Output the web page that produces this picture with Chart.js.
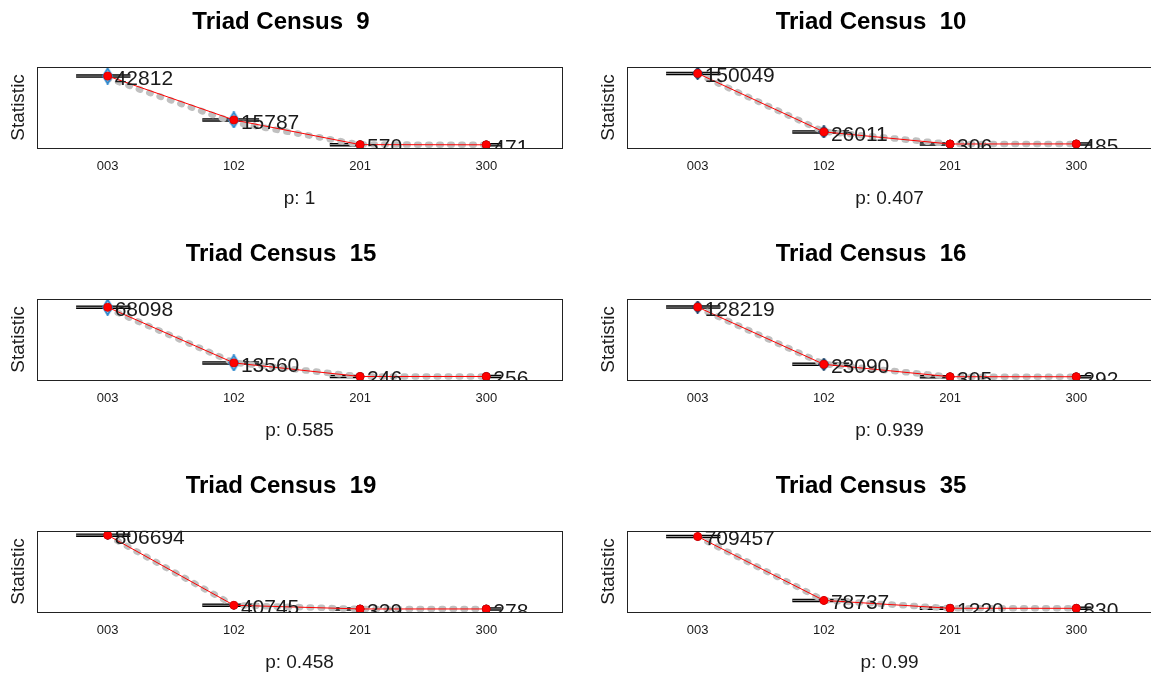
<!DOCTYPE html>
<html>
<head>
<meta charset="utf-8">
<title>Triad Census goodness of fit</title>
<script src="https://cdn.jsdelivr.net/npm/chart.js@4.4.1/dist/chart.umd.min.js"></script>
<style>
  html, body { margin: 0; padding: 0; background: #fff; }
  body { width: 1151px; height: 674px; overflow: hidden; position: relative; }
  canvas { position: absolute; }
</style>
</head>
<body>
<canvas id="tc9"  width="575" height="232" style="left:0;top:0"></canvas>
<canvas id="tc10" width="575" height="232" style="left:590px;top:0"></canvas>
<canvas id="tc15" width="575" height="232" style="left:0;top:232px"></canvas>
<canvas id="tc16" width="575" height="232" style="left:590px;top:232px"></canvas>
<canvas id="tc19" width="575" height="232" style="left:0;top:464px"></canvas>
<canvas id="tc35" width="575" height="232" style="left:590px;top:464px"></canvas>
<script>
// triad types on the x axis
const categories = ['003', '102', '201', '300'];

// observed statistics per model
const obs9  = [42812, 15787, 570, 471];
const obs10 = [150049, 26011, 306, 485];
const obs15 = [68098, 13560, 246, 256];
const obs16 = [128219, 23090, 305, 292];
const obs19 = [806694, 40745, 329, 278];
const obs35 = [709457, 78737, 1220, 830];

// mean of the simulated statistics
const sim9  = [41500, 14300, 640, 480];
const sim10 = [149000, 26600, 430, 480];
const sim15 = [67000, 13800, 330, 270];
const sim16 = [127500, 23600, 390, 300];
const sim19 = [805000, 41600, 360, 290];
const sim35 = [708000, 79800, 1300, 850];

// y axis limits
const lim9  = [-1500, 48500];
const lim10 = [-8200, 164100];
const lim15 = [-3200, 76400];
const lim16 = [-5700, 143400];
const lim19 = [-32900, 854400];
const lim35 = [-35500, 766100];

const pValues = ['1', '0.407', '0.585', '0.939', '0.458', '0.99'];
const modelIds = [9, 10, 15, 16, 19, 35];

const FONT = "'Liberation Sans', Arial, sans-serif";
const TEXT = '#1a1a1a';

// horizontal extent of the simulation spread marks, in category units
const SPREAD = [[-0.25, 0.18], [-0.25, 0.2], [-0.24, 0.02], [-0.02, 0.12]];

/**
 * Tall blue diamond used for the simulated-value markers
 * @param {boolean} filled - solid or outlined
 * @returns {HTMLCanvasElement} point image
 */
function makeDiamond(filled, w, h) {
  const c = document.createElement('canvas');
  c.width = w; c.height = h;
  const g = c.getContext('2d');
  g.beginPath();
  g.moveTo(w / 2, 1);
  g.lineTo(w - 1, h / 2);
  g.lineTo(w / 2, h - 1);
  g.lineTo(1, h / 2);
  g.closePath();
  if (filled) {
    g.fillStyle = '#2b7fc4';
    g.fill();
    g.strokeStyle = '#163f66';
  } else {
    g.strokeStyle = '#2a86cc';
  }
  g.lineWidth = 2;
  g.stroke();
  return c;
}

const diamondStyles = [
  makeDiamond(false, 11, 17),
  makeDiamond(true, 11, 13),
  makeDiamond(false, 11, 17),
  makeDiamond(true, 11, 13),
  makeDiamond(true, 9, 9),
  makeDiamond(true, 9, 9)
];

// frame around the plotting region
const boxFrame = {
  id: 'boxFrame',
  afterDatasetsDraw(chart) {
    const { ctx, chartArea: a } = chart;
    ctx.save();
    ctx.strokeStyle = '#222';
    ctx.lineWidth = 1;
    ctx.strokeRect(Math.round(a.left) + 0.5, Math.round(a.top) + 0.5,
      Math.round(a.right - a.left), Math.round(a.bottom - a.top));
    ctx.restore();
  }
};

// observed value printed to the right of each red point, clipped to the box
const valueLabels = {
  id: 'valueLabels',
  afterDatasetsDraw(chart) {
    const { ctx, chartArea: a } = chart;
    const ds = chart.data.datasets.findIndex(d => d.label === 'observed');
    const meta = chart.getDatasetMeta(ds);
    ctx.save();
    ctx.beginPath();
    ctx.rect(a.left, a.top, a.right - a.left, a.bottom - a.top);
    ctx.clip();
    ctx.font = '21px ' + FONT;
    ctx.fillStyle = TEXT;
    ctx.textAlign = 'left';
    ctx.textBaseline = 'middle';
    meta.data.forEach((pt, i) => {
      ctx.fillText(String(chart.data.datasets[ds].data[i].y), pt.x + 7, pt.y + 3);
    });
    ctx.restore();
  }
};

function toPoints(values) {
  return values.map((v, i) => ({ x: i + 1, y: v }));
}

function spreadSegments(values) {
  const pts = [];
  values.forEach((v, i) => {
    pts.push({ x: i + 1 + SPREAD[i][0], y: v });
    pts.push({ x: i + 1 + SPREAD[i][1], y: v });
    pts.push({ x: i + 1.5, y: null });
  });
  return pts;
}

function buildChart(idx, obs, sim, lim) {
  const id = modelIds[idx];
  const canvas = document.getElementById('tc' + id);
  const dark = ['#111', '#111', '#1b2f4a', '#1b2f4a'];
  const diamonds = [diamondStyles[idx], diamondStyles[idx], 'circle', 'circle'];

  return new Chart(canvas, {
    type: 'line',
    data: {
      datasets: [
        {
          label: 'observed',
          data: toPoints(obs),
          borderColor: '#ff0000',
          borderWidth: 1,
          pointRadius: 4,
          pointBackgroundColor: '#ff0000',
          pointBorderColor: '#e00000',
          pointBorderWidth: 1,
          order: 1
        },
        {
          label: 'simulated',
          data: toPoints(obs),
          showLine: false,
          pointStyle: diamonds,
          pointRadius: [6, 6, 4, 4],
          pointBackgroundColor: dark,
          pointBorderColor: dark,
          order: 2
        },
        {
          label: 'mean',
          data: toPoints(sim),
          borderColor: '#c0c0c0',
          borderWidth: 6.5,
          borderDash: [1.5, 9.5],
          borderCapStyle: 'round',
          pointRadius: 0,
          order: 3
        },
        {
          label: 'spread inner',
          data: spreadSegments(obs),
          borderColor: '#9a9a9a',
          borderWidth: 1,
          pointRadius: 0,
          spanGaps: false,
          order: 4
        },
        {
          label: 'spread',
          data: spreadSegments(obs),
          borderColor: '#000',
          borderWidth: 3.5,
          pointRadius: 0,
          spanGaps: false,
          order: 5
        }
      ]
    },
    options: {
      responsive: false,
      animation: false,
      layout: { padding: { left: 0, right: 13, top: 0, bottom: 0 } },
      plugins: {
        legend: { display: false },
        tooltip: { enabled: false },
        title: {
          display: true,
          text: 'Triad Census  ' + id,
          color: '#000',
          font: { family: FONT, size: 24, weight: 'bold' },
          padding: { top: 8, bottom: 30 }
        }
      },
      scales: {
        x: {
          type: 'linear',
          min: 0.44,
          max: 4.6,
          afterBuildTicks: scale => {
            scale.ticks = categories.map((c, i) => ({ value: i + 1 }));
          },
          afterFit: scale => { scale.height = 84; },
          grid: { display: false, drawTicks: false },
          border: { display: false },
          ticks: {
            padding: 11,
            color: TEXT,
            font: { family: FONT, size: 13 },
            callback: v => categories[v - 1]
          },
          title: {
            display: true,
            text: 'p: ' + pValues[idx],
            color: TEXT,
            font: { family: FONT, size: 19 },
            padding: { top: 0, bottom: 22 }
          }
        },
        y: {
          min: lim[0],
          max: lim[1],
          afterFit: scale => { scale.width = 37; },
          grid: { display: false, drawTicks: false },
          border: { display: false },
          ticks: { display: false },
          title: {
            display: true,
            text: 'Statistic',
            color: TEXT,
            font: { family: FONT, size: 19 },
            padding: { top: 7, bottom: 0 }
          }
        }
      }
    },
    plugins: [boxFrame, valueLabels]
  });
}

buildChart(0, obs9, sim9, lim9);
buildChart(1, obs10, sim10, lim10);
buildChart(2, obs15, sim15, lim15);
buildChart(3, obs16, sim16, lim16);
buildChart(4, obs19, sim19, lim19);
buildChart(5, obs35, sim35, lim35);
</script>
</body>
</html>
